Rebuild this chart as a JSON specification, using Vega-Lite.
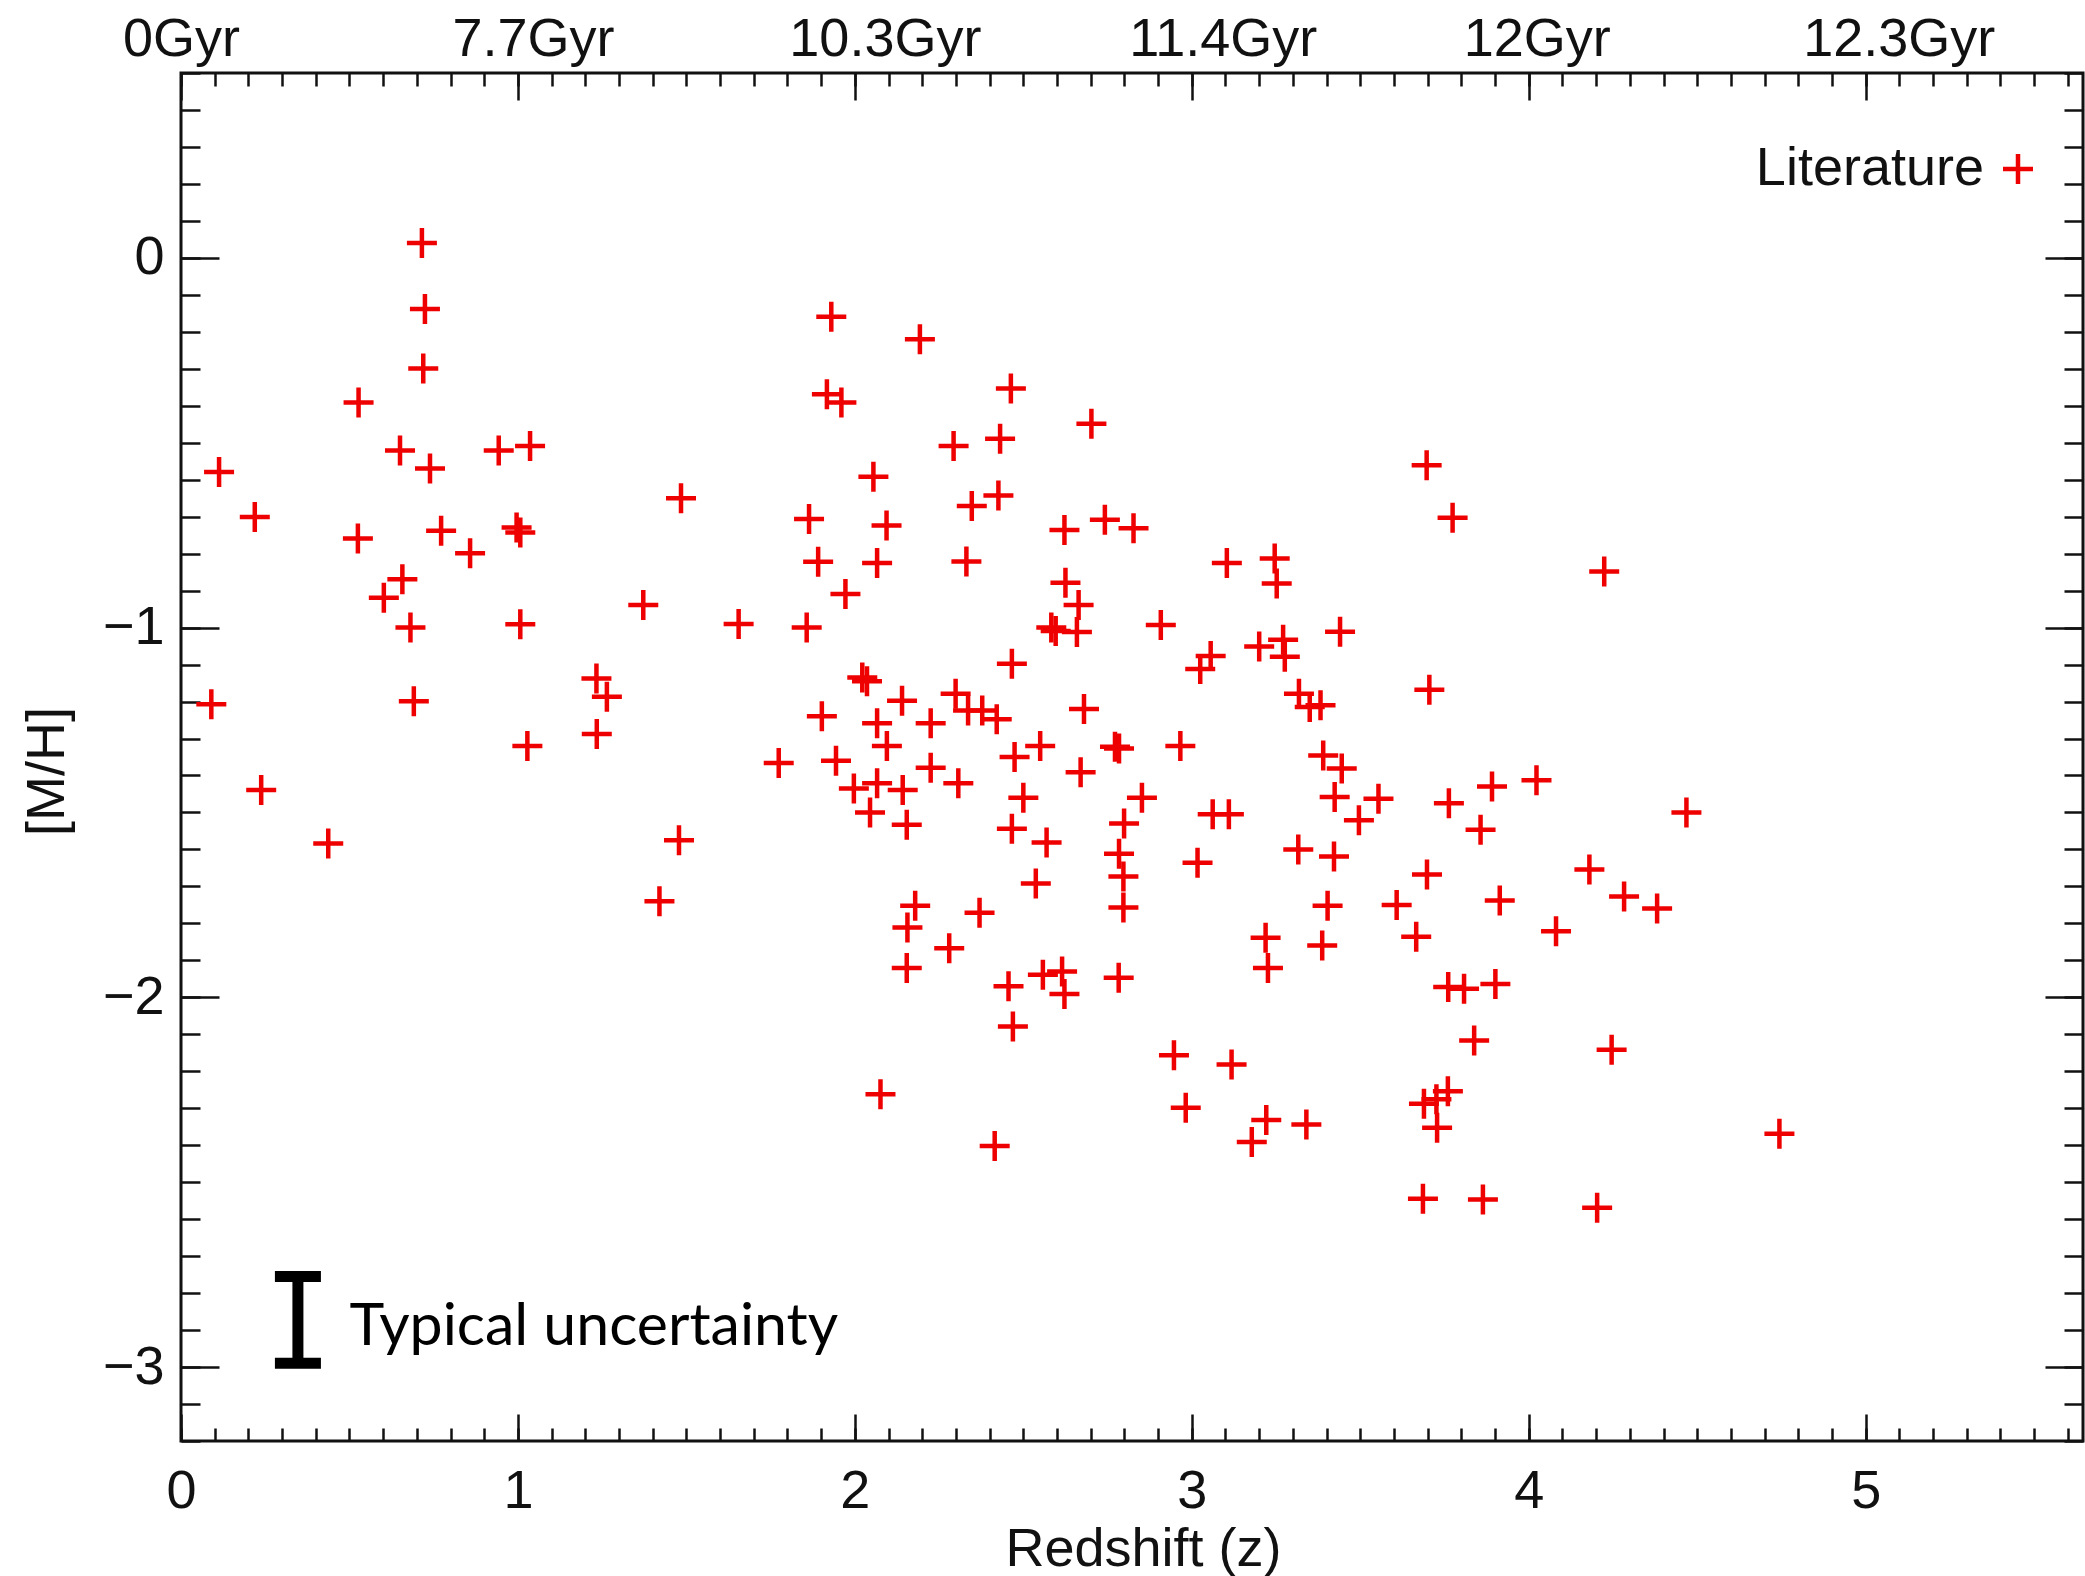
{
  "$schema": "https://vega.github.io/schema/vega-lite/v6.json",
  "width": 1902,
  "height": 1368,
  "autosize": {"type": "none"},
  "padding": {"left": 181, "top": 73, "right": 2, "bottom": 135},
  "background": "white",
  "config": {
    "view": {"stroke": "#111", "strokeWidth": 3},
    "axis": {
      "domain": false, "grid": false,
      "labelFont": "Liberation Sans", "titleFont": "Liberation Sans",
      "labelFontSize": 54, "titleFontSize": 54, "titleFontWeight": "normal",
      "labelColor": "#111", "titleColor": "#111", "tickColor": "#111", "tickWidth": 2.5,
      "labelOverlap": false, "labelFlush": false, "labelBound": false, "labelLimit": 0
    }
  },
  "datasets": {
    "pts": [
      {"z":0.715,"mh":0.040,"src":"Literature"},{"z":0.724,"mh":-0.138,"src":"Literature"},{"z":0.719,"mh":-0.299,"src":"Literature"},
      {"z":0.527,"mh":-0.391,"src":"Literature"},{"z":0.650,"mh":-0.521,"src":"Literature"},{"z":0.739,"mh":-0.570,"src":"Literature"},
      {"z":0.943,"mh":-0.521,"src":"Literature"},{"z":1.036,"mh":-0.509,"src":"Literature"},{"z":0.113,"mh":-0.579,"src":"Literature"},
      {"z":0.219,"mh":-0.701,"src":"Literature"},{"z":1.484,"mh":-0.650,"src":"Literature"},{"z":0.525,"mh":-0.759,"src":"Literature"},
      {"z":0.772,"mh":-0.738,"src":"Literature"},{"z":0.996,"mh":-0.729,"src":"Literature"},{"z":1.007,"mh":-0.743,"src":"Literature"},
      {"z":0.858,"mh":-0.799,"src":"Literature"},{"z":0.657,"mh":-0.869,"src":"Literature"},{"z":0.602,"mh":-0.919,"src":"Literature"},
      {"z":0.681,"mh":-1.000,"src":"Literature"},{"z":1.007,"mh":-0.991,"src":"Literature"},{"z":1.372,"mh":-0.939,"src":"Literature"},
      {"z":1.655,"mh":-0.990,"src":"Literature"},{"z":0.090,"mh":-1.207,"src":"Literature"},{"z":0.691,"mh":-1.199,"src":"Literature"},
      {"z":1.233,"mh":-1.138,"src":"Literature"},{"z":1.264,"mh":-1.187,"src":"Literature"},{"z":1.234,"mh":-1.288,"src":"Literature"},
      {"z":1.028,"mh":-1.320,"src":"Literature"},{"z":0.238,"mh":-1.439,"src":"Literature"},{"z":0.437,"mh":-1.584,"src":"Literature"},
      {"z":1.478,"mh":-1.575,"src":"Literature"},{"z":1.420,"mh":-1.740,"src":"Literature"},
      {"z":1.930,"mh":-0.159,"src":"Literature"},{"z":2.193,"mh":-0.220,"src":"Literature"},{"z":1.917,"mh":-0.369,"src":"Literature"},
      {"z":1.960,"mh":-0.391,"src":"Literature"},{"z":2.463,"mh":-0.353,"src":"Literature"},{"z":2.702,"mh":-0.449,"src":"Literature"},
      {"z":2.293,"mh":-0.509,"src":"Literature"},{"z":2.431,"mh":-0.489,"src":"Literature"},{"z":2.055,"mh":-0.592,"src":"Literature"},
      {"z":2.347,"mh":-0.671,"src":"Literature"},{"z":2.426,"mh":-0.643,"src":"Literature"},{"z":1.864,"mh":-0.706,"src":"Literature"},
      {"z":2.094,"mh":-0.724,"src":"Literature"},{"z":2.622,"mh":-0.736,"src":"Literature"},{"z":2.742,"mh":-0.708,"src":"Literature"},
      {"z":2.827,"mh":-0.731,"src":"Literature"},{"z":1.891,"mh":-0.822,"src":"Literature"},{"z":2.066,"mh":-0.825,"src":"Literature"},
      {"z":2.331,"mh":-0.821,"src":"Literature"},{"z":3.104,"mh":-0.825,"src":"Literature"},{"z":3.246,"mh":-0.813,"src":"Literature"},
      {"z":3.252,"mh":-0.881,"src":"Literature"},{"z":1.972,"mh":-0.909,"src":"Literature"},{"z":2.625,"mh":-0.879,"src":"Literature"},
      {"z":2.664,"mh":-0.939,"src":"Literature"},{"z":1.857,"mh":-1.000,"src":"Literature"},{"z":2.583,"mh":-1.000,"src":"Literature"},
      {"z":2.596,"mh":-1.009,"src":"Literature"},{"z":2.659,"mh":-1.012,"src":"Literature"},{"z":2.908,"mh":-0.993,"src":"Literature"},
      {"z":3.056,"mh":-1.077,"src":"Literature"},{"z":3.025,"mh":-1.112,"src":"Literature"},{"z":3.200,"mh":-1.051,"src":"Literature"},
      {"z":2.466,"mh":-1.098,"src":"Literature"},{"z":2.022,"mh":-1.135,"src":"Literature"},{"z":2.036,"mh":-1.145,"src":"Literature"},
      {"z":1.902,"mh":-1.240,"src":"Literature"},{"z":2.066,"mh":-1.259,"src":"Literature"},{"z":2.140,"mh":-1.198,"src":"Literature"},
      {"z":2.225,"mh":-1.259,"src":"Literature"},{"z":2.299,"mh":-1.179,"src":"Literature"},{"z":2.336,"mh":-1.224,"src":"Literature"},
      {"z":2.378,"mh":-1.224,"src":"Literature"},{"z":2.421,"mh":-1.248,"src":"Literature"},{"z":2.680,"mh":-1.220,"src":"Literature"},
      {"z":3.697,"mh":-0.561,"src":"Literature"},{"z":3.774,"mh":-0.703,"src":"Literature"},{"z":4.224,"mh":-0.848,"src":"Literature"},
      {"z":3.440,"mh":-1.011,"src":"Literature"},{"z":3.271,"mh":-1.033,"src":"Literature"},{"z":3.276,"mh":-1.079,"src":"Literature"},
      {"z":3.318,"mh":-1.179,"src":"Literature"},{"z":3.350,"mh":-1.215,"src":"Literature"},{"z":3.382,"mh":-1.210,"src":"Literature"},
      {"z":3.705,"mh":-1.168,"src":"Literature"},
      {"z":1.774,"mh":-1.366,"src":"Literature"},{"z":1.944,"mh":-1.360,"src":"Literature"},{"z":2.095,"mh":-1.320,"src":"Literature"},
      {"z":1.997,"mh":-1.435,"src":"Literature"},{"z":2.066,"mh":-1.421,"src":"Literature"},{"z":2.142,"mh":-1.439,"src":"Literature"},
      {"z":2.045,"mh":-1.500,"src":"Literature"},{"z":2.154,"mh":-1.533,"src":"Literature"},{"z":2.225,"mh":-1.379,"src":"Literature"},
      {"z":2.307,"mh":-1.421,"src":"Literature"},{"z":2.474,"mh":-1.350,"src":"Literature"},{"z":2.550,"mh":-1.320,"src":"Literature"},
      {"z":2.772,"mh":-1.322,"src":"Literature"},{"z":2.784,"mh":-1.327,"src":"Literature"},{"z":2.966,"mh":-1.320,"src":"Literature"},
      {"z":2.670,"mh":-1.391,"src":"Literature"},{"z":2.500,"mh":-1.460,"src":"Literature"},{"z":2.852,"mh":-1.460,"src":"Literature"},
      {"z":2.466,"mh":-1.544,"src":"Literature"},{"z":2.569,"mh":-1.581,"src":"Literature"},{"z":2.799,"mh":-1.530,"src":"Literature"},
      {"z":3.062,"mh":-1.505,"src":"Literature"},{"z":3.110,"mh":-1.505,"src":"Literature"},{"z":2.784,"mh":-1.612,"src":"Literature"},
      {"z":2.797,"mh":-1.673,"src":"Literature"},{"z":2.797,"mh":-1.757,"src":"Literature"},{"z":3.017,"mh":-1.636,"src":"Literature"},
      {"z":2.537,"mh":-1.692,"src":"Literature"},{"z":2.179,"mh":-1.752,"src":"Literature"},{"z":2.156,"mh":-1.811,"src":"Literature"},
      {"z":2.370,"mh":-1.771,"src":"Literature"},{"z":2.280,"mh":-1.867,"src":"Literature"},{"z":2.154,"mh":-1.921,"src":"Literature"},
      {"z":2.456,"mh":-1.970,"src":"Literature"},{"z":2.558,"mh":-1.939,"src":"Literature"},{"z":2.615,"mh":-1.930,"src":"Literature"},
      {"z":2.622,"mh":-1.991,"src":"Literature"},{"z":2.783,"mh":-1.947,"src":"Literature"},{"z":2.469,"mh":-2.079,"src":"Literature"},
      {"z":3.219,"mh":-1.839,"src":"Literature"},{"z":3.226,"mh":-1.921,"src":"Literature"},{"z":2.947,"mh":-2.157,"src":"Literature"},
      {"z":3.118,"mh":-2.182,"src":"Literature"},{"z":2.982,"mh":-2.299,"src":"Literature"},{"z":3.221,"mh":-2.332,"src":"Literature"},
      {"z":3.178,"mh":-2.391,"src":"Literature"},{"z":2.076,"mh":-2.262,"src":"Literature"},{"z":2.415,"mh":-2.402,"src":"Literature"},
      {"z":3.390,"mh":-1.346,"src":"Literature"},{"z":3.445,"mh":-1.381,"src":"Literature"},{"z":3.424,"mh":-1.458,"src":"Literature"},
      {"z":3.554,"mh":-1.463,"src":"Literature"},{"z":3.496,"mh":-1.521,"src":"Literature"},{"z":3.763,"mh":-1.475,"src":"Literature"},
      {"z":3.891,"mh":-1.430,"src":"Literature"},{"z":4.023,"mh":-1.413,"src":"Literature"},{"z":3.857,"mh":-1.547,"src":"Literature"},
      {"z":4.468,"mh":-1.500,"src":"Literature"},{"z":3.316,"mh":-1.600,"src":"Literature"},{"z":3.422,"mh":-1.619,"src":"Literature"},
      {"z":3.698,"mh":-1.668,"src":"Literature"},{"z":4.180,"mh":-1.654,"src":"Literature"},{"z":3.403,"mh":-1.752,"src":"Literature"},
      {"z":3.608,"mh":-1.750,"src":"Literature"},{"z":3.914,"mh":-1.738,"src":"Literature"},{"z":4.283,"mh":-1.727,"src":"Literature"},
      {"z":4.381,"mh":-1.760,"src":"Literature"},{"z":4.081,"mh":-1.821,"src":"Literature"},{"z":3.387,"mh":-1.860,"src":"Literature"},
      {"z":3.666,"mh":-1.836,"src":"Literature"},{"z":3.761,"mh":-1.972,"src":"Literature"},{"z":3.808,"mh":-1.977,"src":"Literature"},
      {"z":3.901,"mh":-1.964,"src":"Literature"},{"z":3.838,"mh":-2.117,"src":"Literature"},{"z":4.246,"mh":-2.142,"src":"Literature"},
      {"z":3.689,"mh":-2.288,"src":"Literature"},{"z":3.726,"mh":-2.276,"src":"Literature"},{"z":3.760,"mh":-2.254,"src":"Literature"},
      {"z":3.728,"mh":-2.353,"src":"Literature"},{"z":3.340,"mh":-2.344,"src":"Literature"},{"z":4.744,"mh":-2.369,"src":"Literature"},
      {"z":3.686,"mh":-2.545,"src":"Literature"},{"z":3.864,"mh":-2.547,"src":"Literature"},{"z":4.203,"mh":-2.569,"src":"Literature"}
    ],
    "unc": [{"z": 0.347, "lo": -2.99, "hi": -2.755, "label": "Typical uncertainty", "tz": 0.5, "tmh": -2.94}]
  },
  "resolve": {"axis": {"x": "independent", "y": "independent"}},
  "layer": [
    {
      "data": {"name": "pts"},
      "mark": {"type": "point", "shape": "M-1,0L1,0M0,-1L0,1", "filled": false, "size": 900, "strokeWidth": 4.5, "opacity": 1},
      "encoding": {
        "x": {"field": "z", "type": "quantitative", "scale": {"domain": [0, 5.645], "nice": false, "zero": false},
          "axis": {"orient": "bottom", "values": [0, 1, 2, 3, 4, 5], "tickSize": -27, "labelPadding": 93, "labelBaseline": "alphabetic",
            "title": "Redshift (z)", "titleX": 962, "titleY": 124, "titleBaseline": "alphabetic", "titleAlign": "center"}},
        "y": {"field": "mh", "type": "quantitative", "scale": {"domain": [-3.2, 0.5], "nice": false, "zero": false},
          "axis": {"orient": "left", "values": [-3, -2, -1, 0], "tickSize": -38, "labelPadding": 55,
            "title": "[M/H]", "titleX": -134, "titleY": 698, "titleAngle": -90, "titleBaseline": "middle", "titleAlign": "center"}},
        "color": {"field": "src", "type": "nominal", "scale": {"range": ["#ee0000"]},
          "legend": {"orient": "none", "legendX": 1810, "legendY": 69, "title": null, "padding": 0,
            "symbolType": "M-1,0L1,0M0,-1L0,1", "symbolSize": 900, "symbolStrokeWidth": 4.5, "symbolStrokeColor": "#ee0000", "symbolFillColor": "transparent",
            "labelFont": "Liberation Sans", "labelFontSize": 54, "labelColor": "#111", "labelAlign": "right", "labelOffset": -61, "labelLimit": 0}}
      }
    },
    {
      "data": {"name": "pts"},
      "mark": {"type": "point", "opacity": 0},
      "encoding": {
        "x": {"field": "z", "type": "quantitative", "scale": {"domain": [0, 5.645], "nice": false, "zero": false},
          "axis": {"orient": "bottom", "labels": false, "title": null, "tickSize": -13,
            "values": [0,0.1,0.2,0.3,0.4,0.5,0.6,0.7,0.8,0.9,1,1.1,1.2,1.3,1.4,1.5,1.6,1.7,1.8,1.9,2,2.1,2.2,2.3,2.4,2.5,2.6,2.7,2.8,2.9,3,3.1,3.2,3.3,3.4,3.5,3.6,3.7,3.8,3.9,4,4.1,4.2,4.3,4.4,4.5,4.6,4.7,4.8,4.9,5,5.1,5.2,5.3,5.4,5.5,5.6]}},
        "y": {"field": "mh", "type": "quantitative", "scale": {"domain": [-3.2, 0.5], "nice": false, "zero": false},
          "axis": {"orient": "left", "labels": false, "title": null, "tickSize": -19,
            "values": [-3.2,-3.1,-3,-2.9,-2.8,-2.7,-2.6,-2.5,-2.4,-2.3,-2.2,-2.1,-2,-1.9,-1.8,-1.7,-1.6,-1.5,-1.4,-1.3,-1.2,-1.1,-1,-0.9,-0.8,-0.7,-0.6,-0.5,-0.4,-0.3,-0.2,-0.1,0,0.1,0.2,0.3,0.4,0.5]}}
      }
    },
    {
      "data": {"name": "pts"},
      "mark": {"type": "point", "opacity": 0},
      "encoding": {
        "x": {"field": "z", "type": "quantitative", "scale": {"domain": [0, 5.645], "nice": false, "zero": false},
          "axis": {"orient": "top", "values": [0, 1, 2, 3, 4, 5], "tickSize": -27, "labelPadding": 45, "labelBaseline": "alphabetic", "title": null,
            "labelExpr": "['0Gyr','7.7Gyr','10.3Gyr','11.4Gyr','12Gyr','12.3Gyr'][round(datum.value)]",
            "labelOffset": {"condition": [{"test": "datum.value == 0", "value": 0}, {"test": "datum.value == 1", "value": 15}, {"test": "datum.value == 2", "value": 30}, {"test": "datum.value == 3", "value": 31}, {"test": "datum.value == 4", "value": 8}], "value": 33}}},
        "y": {"field": "mh", "type": "quantitative", "scale": {"domain": [-3.2, 0.5], "nice": false, "zero": false},
          "axis": {"orient": "right", "values": [-3, -2, -1, 0], "tickSize": -38, "labels": false, "title": null}}
      }
    },
    {
      "data": {"name": "pts"},
      "mark": {"type": "point", "opacity": 0},
      "encoding": {
        "x": {"field": "z", "type": "quantitative", "scale": {"domain": [0, 5.645], "nice": false, "zero": false},
          "axis": {"orient": "top", "labels": false, "title": null, "tickSize": -13,
            "values": [0,0.1,0.2,0.3,0.4,0.5,0.6,0.7,0.8,0.9,1,1.1,1.2,1.3,1.4,1.5,1.6,1.7,1.8,1.9,2,2.1,2.2,2.3,2.4,2.5,2.6,2.7,2.8,2.9,3,3.1,3.2,3.3,3.4,3.5,3.6,3.7,3.8,3.9,4,4.1,4.2,4.3,4.4,4.5,4.6,4.7,4.8,4.9,5,5.1,5.2,5.3,5.4,5.5,5.6]}},
        "y": {"field": "mh", "type": "quantitative", "scale": {"domain": [-3.2, 0.5], "nice": false, "zero": false},
          "axis": {"orient": "right", "labels": false, "title": null, "tickSize": -19,
            "values": [-3.2,-3.1,-3,-2.9,-2.8,-2.7,-2.6,-2.5,-2.4,-2.3,-2.2,-2.1,-2,-1.9,-1.8,-1.7,-1.6,-1.5,-1.4,-1.3,-1.2,-1.1,-1,-0.9,-0.8,-0.7,-0.6,-0.5,-0.4,-0.3,-0.2,-0.1,0,0.1,0.2,0.3,0.4,0.5]}}
      }
    },
    {
      "data": {"name": "unc"},
      "mark": {"type": "rule", "strokeWidth": 11, "color": "#000", "opacity": 1},
      "encoding": {
        "x": {"field": "z", "type": "quantitative", "scale": {"domain": [0, 5.645], "nice": false, "zero": false}, "axis": null},
        "y": {"field": "lo", "type": "quantitative", "scale": {"domain": [-3.2, 0.5], "nice": false, "zero": false}, "axis": null},
        "y2": {"field": "hi"}
      }
    },
    {
      "data": {"name": "unc"},
      "mark": {"type": "tick", "orient": "horizontal", "size": 46, "thickness": 11, "color": "#000", "opacity": 1},
      "encoding": {
        "x": {"field": "z", "type": "quantitative", "scale": {"domain": [0, 5.645], "nice": false, "zero": false}, "axis": null},
        "y": {"field": "lo", "type": "quantitative", "scale": {"domain": [-3.2, 0.5], "nice": false, "zero": false}, "axis": null}
      }
    },
    {
      "data": {"name": "unc"},
      "mark": {"type": "tick", "orient": "horizontal", "size": 46, "thickness": 11, "color": "#000", "opacity": 1},
      "encoding": {
        "x": {"field": "z", "type": "quantitative", "scale": {"domain": [0, 5.645], "nice": false, "zero": false}, "axis": null},
        "y": {"field": "hi", "type": "quantitative", "scale": {"domain": [-3.2, 0.5], "nice": false, "zero": false}, "axis": null}
      }
    },
    {
      "data": {"name": "unc"},
      "mark": {"type": "text", "align": "left", "baseline": "alphabetic", "font": "Lato", "fontSize": 59, "color": "#000"},
      "encoding": {
        "text": {"field": "label"},
        "x": {"field": "tz", "type": "quantitative", "scale": {"domain": [0, 5.645], "nice": false, "zero": false}, "axis": null},
        "y": {"field": "tmh", "type": "quantitative", "scale": {"domain": [-3.2, 0.5], "nice": false, "zero": false}, "axis": null}
      }
    }
  ]
}
